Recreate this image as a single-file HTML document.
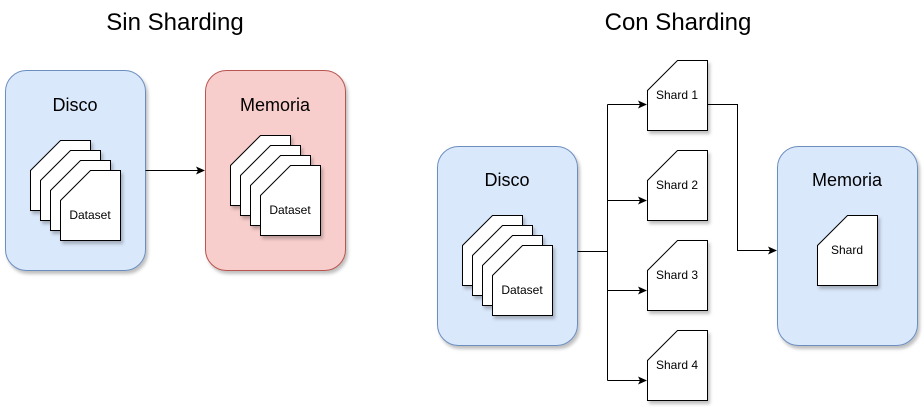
<!DOCTYPE html>
<html><head><meta charset="utf-8"><style>body{margin:0;background:#fff}svg{display:block}text{font-family:"Liberation Sans",sans-serif;fill:#000}</style></head><body>
<svg width="924" height="408" viewBox="0 0 924 408" xmlns="http://www.w3.org/2000/svg">
<defs>
<filter id="sh" x="-20%" y="-20%" width="150%" height="150%"><feDropShadow dx="2" dy="3" stdDeviation="1.5" flood-color="#000" flood-opacity="0.25"/></filter>
<marker id="ar" markerWidth="10" markerHeight="10" refX="8" refY="5" orient="auto" markerUnits="userSpaceOnUse"><path d="M0,1 L9,5 L0,9 L2,5 Z" fill="#000"/></marker>
<path id="card" d="M30,0 H60 V70 H0 V30 Z" fill="#fff" stroke="#000" stroke-width="1"/>
</defs>
<text x="175" y="30" font-size="24" text-anchor="middle">Sin Sharding</text>
<text x="678" y="30" font-size="24" text-anchor="middle">Con Sharding</text>

<rect x="5.5" y="70.5" width="140" height="200" rx="21" fill="#dae8fc" stroke="#6c8ebf" filter="url(#sh)"/>
<text x="75" y="111" font-size="18" text-anchor="middle">Disco</text>
<g filter="url(#sh)">
<use href="#card" x="30.5" y="140.5"/><use href="#card" x="40.5" y="150.5"/><use href="#card" x="50.5" y="160.5"/><use href="#card" x="60.5" y="170.5"/>
</g>
<text x="90" y="219" font-size="12" text-anchor="middle">Dataset</text>

<rect x="205.5" y="70.5" width="140" height="200" rx="21" fill="#f8cecc" stroke="#b85450" filter="url(#sh)"/>
<text x="275" y="111" font-size="18" text-anchor="middle">Memoria</text>
<g filter="url(#sh)">
<use href="#card" x="230.5" y="135.5"/><use href="#card" x="240.5" y="145.5"/><use href="#card" x="250.5" y="155.5"/><use href="#card" x="260.5" y="165.5"/>
</g>
<text x="290" y="214" font-size="12" text-anchor="middle">Dataset</text>
<line x1="145.5" y1="170.5" x2="204" y2="170.5" stroke="#000" marker-end="url(#ar)"/>

<rect x="437.5" y="146.5" width="140" height="199" rx="21" fill="#dae8fc" stroke="#6c8ebf" filter="url(#sh)"/>
<text x="507" y="186" font-size="18" text-anchor="middle">Disco</text>
<g filter="url(#sh)">
<use href="#card" x="462.5" y="215.5"/><use href="#card" x="472.5" y="225.5"/><use href="#card" x="482.5" y="235.5"/><use href="#card" x="492.5" y="245.5"/>
</g>
<text x="522" y="294" font-size="12" text-anchor="middle">Dataset</text>

<rect x="777.5" y="146.5" width="140" height="199" rx="21" fill="#dae8fc" stroke="#6c8ebf" filter="url(#sh)"/>
<text x="847" y="186" font-size="18" text-anchor="middle">Memoria</text>
<use href="#card" x="817.5" y="215.5" filter="url(#sh)"/>
<text x="847" y="254" font-size="12" text-anchor="middle">Shard</text>

<g filter="url(#sh)">
<use href="#card" x="647.5" y="60.5"/><use href="#card" x="647.5" y="150.5"/><use href="#card" x="647.5" y="240.5"/><use href="#card" x="647.5" y="330.5"/>
</g>
<text x="677" y="99" font-size="12" text-anchor="middle">Shard 1</text>
<text x="677" y="189" font-size="12" text-anchor="middle">Shard 2</text>
<text x="677" y="279" font-size="12" text-anchor="middle">Shard 3</text>
<text x="677" y="369" font-size="12" text-anchor="middle">Shard 4</text>

<g stroke="#000" fill="none">
<line x1="577.5" y1="251.5" x2="607.5" y2="251.5"/>
<line x1="607.5" y1="104.5" x2="607.5" y2="380.5"/>
<line x1="607.5" y1="104.5" x2="646" y2="104.5" marker-end="url(#ar)"/>
<line x1="607.5" y1="200.5" x2="646" y2="200.5" marker-end="url(#ar)"/>
<line x1="607.5" y1="290.5" x2="646" y2="290.5" marker-end="url(#ar)"/>
<line x1="607.5" y1="380.5" x2="646" y2="380.5" marker-end="url(#ar)"/>
<polyline points="707.5,104.5 737.5,104.5 737.5,250.5 776,250.5" marker-end="url(#ar)"/>
</g>
</svg>
</body></html>
